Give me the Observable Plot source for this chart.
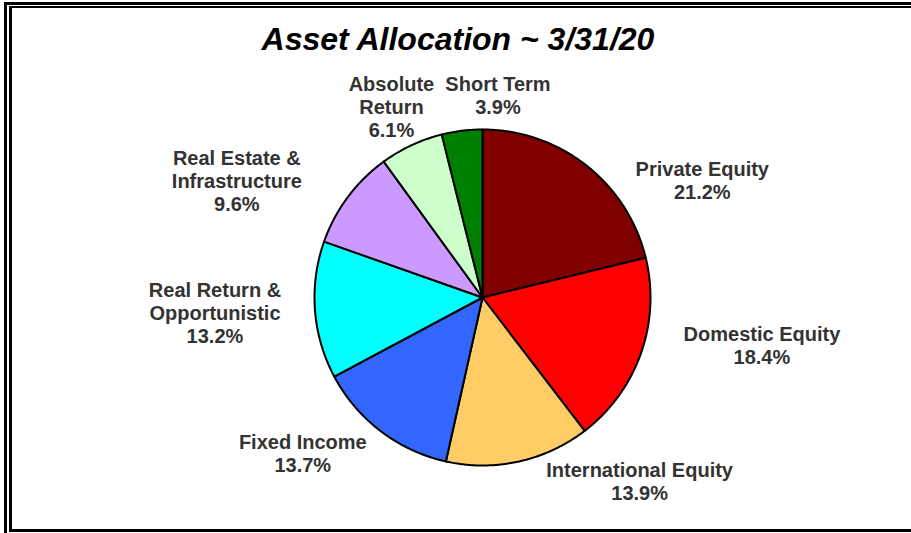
<!DOCTYPE html>
<html>
<head>
<meta charset="utf-8">
<script src="https://cdn.jsdelivr.net/npm/d3@7"></script>
<script src="https://cdn.jsdelivr.net/npm/@observablehq/plot@0.6"></script>
<style>
  html, body { margin: 0; padding: 0; background: #fff; }
  #wrap { position: relative; width: 911px; height: 533px; overflow: hidden; background: #fff; }
  #chart { position: absolute; left: 0; top: 0; }
  #title { position: absolute; left: 0; top: 23px; width: 916px; text-align: center;
    font-family: "Liberation Sans", Arial, sans-serif; font-weight: bold; font-style: italic;
    font-size: 32px; line-height: 1; color: #000; }
  .ln { position: absolute; background: #000; }
</style>
</head>
<body>
<div id="wrap">
  <div id="chart"></div>
  <div id="title">Asset Allocation ~ 3/31/20</div>
  <div class="ln" style="left:4px; top:2px; width:907px; height:3px;"></div>
  <div class="ln" style="left:4px; top:2px; width:3px; height:531px;"></div>
  <div class="ln" style="left:9px; top:6px; width:902px; height:2px;"></div>
  <div class="ln" style="left:9px; top:6px; width:3px; height:526px;"></div>
  <div class="ln" style="left:9px; top:529px; width:902px; height:3px;"></div>
</div>
<script>
// ---- data ----
const categories = ["Private Equity", "Domestic Equity", "International Equity", "Fixed Income",
  "Real Return & Opportunistic", "Real Estate & Infrastructure", "Absolute Return", "Short Term"];
const values = [21.2, 18.4, 13.9, 13.7, 13.2, 9.6, 6.1, 3.9];
const labelLines = [
  ["Private Equity"], ["Domestic Equity"], ["International Equity"], ["Fixed Income"],
  ["Real Return &", "Opportunistic"], ["Real Estate &", "Infrastructure"], ["Absolute", "Return"], ["Short Term"]
];
const colors = ["#800000", "#FF0000", "#FFCC66", "#3366FF", "#00FFFF", "#CC99FF", "#CCFFCC", "#008000"];

// ---- layout (label nudges in px, relative to slice mid-angle on the rim) ----
const labelNudge = [[116, 15], [121, -8], [121, 20], [-78, 22], [-100, 2], [-111, -16], [-20, -39], [36, -36]];

const cx = 482, cy = 297, R = 168;

const pie = d3.pie().sort(null).value(d => d.value)(categories.map((c, i) => ({name: c, value: values[i], i})));

const slices = pie.map(p => {
  const pts = [{x: 0, y: 0}];
  const n = Math.max(2, Math.ceil((p.endAngle - p.startAngle) / (Math.PI / 360)));
  for (let k = 0; k <= n; k++) {
    const a = p.startAngle + (p.endAngle - p.startAngle) * k / n;
    pts.push({x: Math.sin(a), y: Math.cos(a)});
  }
  pts.push({x: 0, y: 0});
  return {i: p.data.i, pts, mid: (p.startAngle + p.endAngle) / 2};
});

const font = "'Liberation Sans', Arial, sans-serif";

const marks = [];
for (const s of slices) {
  marks.push(Plot.line(s.pts, {x: "x", y: "y", fill: colors[s.i], stroke: "#000", strokeWidth: 2, strokeLinejoin: "round"}));
}
for (const s of slices) {
  const i = s.i;
  const text = labelLines[i].join("\n") + "\n" + values[i].toFixed(1) + "%";
  marks.push(Plot.text([{x: Math.sin(s.mid), y: Math.cos(s.mid), t: text}], {
    x: "x", y: "y", text: "t", dx: labelNudge[i][0], dy: labelNudge[i][1],
    fontSize: 20, fontWeight: "bold", fill: "#333", lineHeight: 1.15, fontFamily: font
  }));
}

const chart = Plot.plot({
  width: 911, height: 533, margin: 0,
  x: {domain: [-1, 1], range: [cx - R, cx + R], axis: null},
  y: {domain: [-1, 1], range: [cy + R, cy - R], axis: null},
  style: {background: "transparent", fontFamily: font},
  marks
});
document.getElementById("chart").appendChild(chart);
</script>
</body>
</html>
